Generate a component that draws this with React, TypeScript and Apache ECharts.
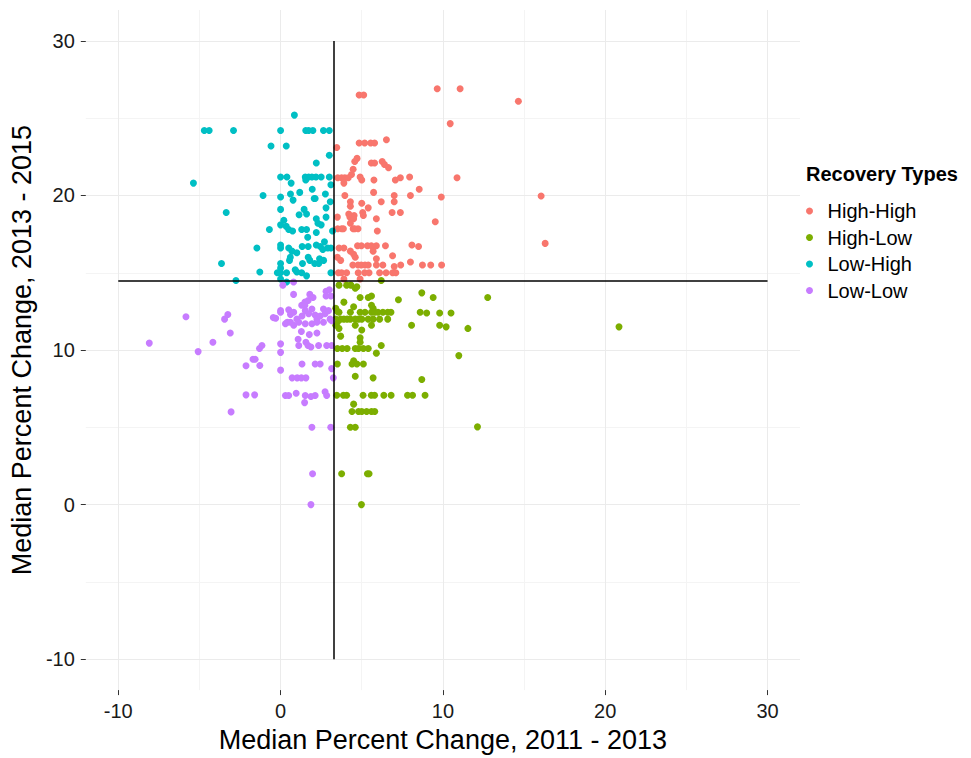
import React, { useEffect, useRef } from "react";
import * as echarts from "echarts";

// ---- data (x = % change 2011-2013, y = % change 2013-2015) ----
const seriesNames = ["High-High", "High-Low", "Low-High", "Low-Low"];
const seriesColors = ["#F8766D", "#7CAE00", "#00BFC4", "#C77CFF"];

const highHigh: number[][] = [
  [9.65, 26.9], [11.06, 26.9], [4.84, 26.5], [5.12, 26.5], [14.65, 26.1], [10.45, 24.65],
  [3.46, 23.1], [4.84, 23.4], [5.18, 23.4], [5.55, 23.4], [5.79, 23.4], [6.52, 23.6],
  [4.71, 22.4], [4.57, 22.2], [4.47, 21.7], [5.59, 22.1], [5.79, 22.1], [6.26, 22.2], [6.4, 22.0], [6.65, 21.8],
  [4.37, 21.36], [3.52, 21.15], [3.76, 21.15], [3.96, 21.15], [4.17, 21.15], [3.9, 20.8], [4.9, 21.2], [5.0, 21.0],
  [5.75, 21.0], [7.07, 21.0], [7.38, 21.15], [7.95, 21.2], [10.87, 21.15],
  [8.54, 20.4], [5.73, 20.2], [3.96, 20.0], [7.0, 20.0], [8.0, 20.0], [9.9, 19.9], [16.05, 19.97],
  [4.3, 19.6], [4.3, 19.3], [5.0, 19.5], [5.4, 19.2], [6.2, 19.6], [7.0, 19.6], [6.87, 18.9], [7.38, 18.9],
  [5.06, 18.9], [5.1, 18.7], [4.27, 18.6], [4.53, 18.7],
  [3.5, 18.6], [4.2, 18.8], [4.5, 18.5], [4.3, 18.2], [5.9, 18.5], [9.53, 18.3],
  [3.52, 17.85], [3.76, 17.85], [3.87, 17.85], [4.47, 17.85], [4.57, 17.85], [4.77, 17.85], [5.96, 17.7],
  [3.9, 16.6], [3.6, 16.6], [4.74, 16.75], [4.98, 16.75], [5.35, 16.75], [5.59, 16.75], [5.9, 16.75], [6.46, 16.75],
  [8.09, 16.8], [8.5, 16.7], [16.3, 16.9],
  [4.3, 16.4], [4.5, 16.2], [4.6, 16.0], [5.7, 16.4], [5.9, 15.9], [3.5, 16.0], [3.7, 15.8], [6.9, 16.1],
  [4.45, 15.5], [4.77, 15.5], [4.97, 15.5], [5.2, 15.5], [5.4, 15.5], [5.9, 15.5], [6.3, 15.5], [7.0, 15.4],
  [7.4, 15.5], [8.0, 15.7], [8.74, 15.5], [9.25, 15.5], [9.92, 15.5],
  [3.56, 15.0], [3.76, 15.0], [4.07, 15.0], [4.78, 15.0], [5.18, 15.0], [5.45, 15.0], [6.1, 15.0], [6.5, 15.0],
  [6.9, 15.0], [7.1, 15.0], [3.9, 14.6], [4.9, 14.6],
];

const highLow: number[][] = [
  [3.6, 14.2], [4.07, 14.2], [4.33, 14.2], [4.6, 14.0], [4.7, 14.1], [6.2, 14.5],
  [8.7, 13.7], [9.4, 13.4], [12.76, 13.4], [4.9, 13.4], [5.4, 13.4], [5.6, 13.5], [7.26, 13.25], [3.9, 13.1],
  [4.5, 12.8], [5.6, 12.9], [5.7, 12.7], [3.4, 12.7], [3.5, 12.5],
  [3.6, 12.45], [4.3, 12.45], [4.9, 12.45], [5.2, 12.45], [5.6, 12.45], [5.8, 12.45], [6.0, 12.45], [6.3, 12.45],
  [6.6, 12.45], [6.8, 12.45], [8.6, 12.45], [9.0, 12.4], [9.8, 12.4], [10.5, 12.4],
  [3.4, 12.0], [3.7, 12.0], [3.9, 12.0], [4.1, 12.0], [4.3, 12.0], [4.6, 12.0], [4.8, 12.0], [5.0, 12.0],
  [5.4, 12.0], [5.7, 12.0], [6.1, 12.0], [6.6, 12.0],
  [8.07, 11.6], [9.8, 11.6], [10.2, 11.5], [11.54, 11.4], [20.85, 11.5], [3.5, 11.8], [3.4, 11.6], [3.6, 11.4],
  [4.6, 11.6], [5.6, 11.6], [5.0, 11.3], [3.7, 10.9], [4.9, 10.8], [4.9, 10.5],
  [3.5, 10.1], [3.8, 10.1], [4.1, 10.1], [4.6, 10.1], [4.8, 10.1], [5.1, 10.1], [5.4, 10.1], [6.2, 10.3],
  [5.9, 9.8], [10.98, 9.64],
  [3.5, 9.1], [4.4, 9.1], [4.5, 9.3], [4.7, 9.1], [5.1, 9.1], [4.6, 8.3], [5.7, 8.2], [8.7, 8.1],
  [3.46, 7.07], [3.87, 7.07], [4.07, 7.07], [5.08, 7.07], [5.59, 7.07], [5.79, 7.07], [6.36, 7.07], [6.81, 7.07],
  [7.82, 7.07], [8.13, 7.07], [8.9, 7.07],
  [4.5, 6.5], [4.4, 6.03], [4.8, 6.03], [5.0, 6.03], [5.3, 6.03], [5.6, 6.03], [5.8, 6.03],
  [4.3, 5.0], [4.6, 5.0], [12.13, 5.03], [3.76, 2.0], [5.35, 2.0], [5.45, 2.0], [4.98, 0.0],
];

const lowHigh: number[][] = [
  [0.85, 25.2],
  [-4.7, 24.2], [-4.4, 24.2], [-2.9, 24.2], [0.0, 24.2], [1.55, 24.2], [1.73, 24.2], [1.99, 24.2], [2.64, 24.2], [3.0, 24.2],
  [-0.59, 23.2], [0.35, 23.2], [3.0, 22.6], [2.2, 22.1],
  [0.0, 21.2], [0.39, 21.2], [1.52, 21.2], [1.73, 21.2], [1.93, 21.2], [2.18, 21.2], [2.5, 21.2], [3.0, 21.2], [1.55, 21.0],
  [-5.37, 20.8], [0.65, 20.8], [3.1, 20.7], [1.95, 20.4], [-1.08, 20.0], [0.0, 19.9], [0.61, 20.1], [0.77, 19.7],
  [1.18, 20.2], [2.07, 19.8], [2.13, 19.8], [2.76, 20.1], [3.06, 19.6],
  [-3.35, 18.9], [0.0, 19.1], [1.14, 18.75], [1.45, 19.1], [1.6, 18.8], [2.8, 19.2], [2.8, 18.6], [2.2, 18.5],
  [2.3, 18.2], [2.5, 18.1],
  [-0.69, 17.8], [0.2, 18.4], [0.0, 18.1], [0.35, 18.0], [0.5, 17.8], [0.74, 17.7], [1.3, 17.8], [1.6, 17.8],
  [2.2, 17.6], [3.2, 17.7], [1.67, 17.3],
  [-1.46, 16.6], [0.0, 16.6], [0.0, 16.8], [0.5, 16.6], [0.7, 16.4], [1.0, 16.3], [1.33, 16.7], [1.7, 16.7],
  [2.2, 16.8], [2.45, 16.7], [2.7, 17.0], [2.6, 16.5], [2.9, 16.6], [3.1, 16.6],
  [0.6, 16.0], [0.55, 15.8], [1.7, 16.0], [1.8, 15.8], [2.4, 15.9], [2.65, 15.8],
  [-3.64, 15.6], [0.0, 15.6], [0.0, 15.3], [1.35, 15.6], [2.1, 15.6], [2.35, 15.6],
  [-1.28, 15.05], [-0.2, 15.0], [0.0, 15.0], [0.37, 15.0], [0.9, 15.2], [1.0, 15.05], [1.3, 15.0], [1.6, 14.8], [3.1, 15.0],
  [-2.75, 14.5], [0.0, 14.6], [0.37, 14.4],
];

const lowLow: number[][] = [
  [-5.83, 12.15], [-8.09, 10.45], [-5.08, 9.9], [-4.17, 10.5], [-3.25, 12.3], [-3.45, 12.0], [-3.1, 11.1],
  [-2.13, 8.98], [-1.28, 9.0], [-1.7, 9.4], [-1.3, 10.1], [-1.15, 10.3], [-2.13, 7.1], [-1.6, 7.1], [-3.05, 6.0],
  [0.0, 10.4], [0.0, 9.85], [0.0, 8.7],
  [0.14, 14.2], [0.8, 14.4], [0.8, 13.6], [1.5, 13.1], [1.7, 13.2], [1.8, 13.6], [2.0, 13.4], [2.8, 13.8],
  [3.0, 13.9], [2.8, 13.5], [3.1, 13.5], [1.3, 12.9], [1.5, 12.9],
  [-0.45, 12.1], [-0.3, 12.06], [0.0, 12.45], [0.0, 12.55], [0.5, 12.6], [0.61, 12.3], [0.81, 12.45], [1.0, 12.0],
  [1.32, 12.2], [1.52, 12.55], [1.73, 12.35], [1.93, 12.65], [2.13, 12.27], [2.24, 12.0], [2.44, 12.2],
  [2.64, 12.65], [2.74, 12.35], [2.95, 12.55], [3.05, 12.0], [3.15, 11.9],
  [0.3, 11.7], [0.41, 11.8], [0.61, 11.8], [0.81, 11.6], [1.12, 11.8], [1.52, 11.7], [1.93, 11.7], [2.24, 11.8], [2.64, 11.8],
  [1.28, 11.2], [1.77, 11.0], [2.24, 11.1],
  [1.08, 10.7], [1.56, 10.5], [1.12, 10.3], [1.69, 10.3], [1.87, 10.2], [2.34, 10.3], [2.84, 10.3], [3.15, 10.3],
  [-1.57, 9.4], [1.32, 9.1], [2.13, 9.1], [2.44, 9.1], [3.15, 8.8], [3.25, 8.2],
  [0.71, 8.2], [1.02, 8.2], [1.28, 8.2], [1.56, 8.2],
  [0.3, 7.06], [0.5, 7.06], [0.96, 7.2], [1.52, 7.06], [1.87, 7.0], [2.13, 7.06], [2.74, 7.3], [2.84, 7.06],
  [1.48, 6.6], [1.93, 5.0], [3.09, 5.0], [1.97, 2.0], [1.87, 0.0],
];

const seriesData = [highHigh, highLow, lowHigh, lowLow];

// axis & reference values
const axisMin = -12;
const axisMax = 32;
const majorTicks = [-10, 0, 10, 20, 30];
const minorTicks = [-5, 5, 15, 25];
const refX = 3.3; // vertical divider
const refY = 14.5; // horizontal divider
const refSpan = [-10, 30];

const xTitle = "Median Percent Change, 2011 - 2013";
const yTitle = "Median Percent Change, 2013 - 2015";
const legendTitle = "Recovery Types";

const FONT = "'Liberation Sans', Arial, Helvetica, sans-serif";

export default function App() {
  const ref = useRef<HTMLDivElement>(null);

  useEffect(() => {
    if (!ref.current) return;
    const chart = echarts.init(ref.current, null, { renderer: "svg" });

    const gridLineData: any[] = [];
    minorTicks.forEach((v) => {
      gridLineData.push({ xAxis: v, lineStyle: { color: "#f4f4f4", width: 1, type: "solid" } });
      gridLineData.push({ yAxis: v, lineStyle: { color: "#f4f4f4", width: 1, type: "solid" } });
    });
    majorTicks.forEach((v) => {
      gridLineData.push({ xAxis: v, lineStyle: { color: "#ebebeb", width: 1, type: "solid" } });
      gridLineData.push({ yAxis: v, lineStyle: { color: "#ebebeb", width: 1, type: "solid" } });
    });

    const axisCommon = {
      type: "value",
      min: axisMin,
      max: axisMax,
      axisLine: { show: false, onZero: false },
      splitLine: { show: false },
      axisTick: {
        show: true,
        length: 5,
        customValues: majorTicks,
        lineStyle: { color: "#333", width: 1 },
      },
      axisLabel: {
        customValues: majorTicks,
        color: "#1a1a1a",
        fontSize: 20,
        fontFamily: FONT,
      },
      nameLocation: "middle",
      nameTextStyle: { color: "#000", fontSize: 27, fontFamily: FONT },
    };

    chart.setOption({
      animation: false,
      backgroundColor: "#ffffff",
      textStyle: { fontFamily: FONT },
      title: {
        text: legendTitle,
        left: 806,
        top: 164,
        padding: 0,
        textStyle: { fontSize: 20, fontWeight: "bold", color: "#000", fontFamily: FONT },
      },
      legend: {
        orient: "vertical",
        left: 806,
        top: 201,
        padding: 0,
        itemGap: 6.5,
        itemWidth: 14,
        itemHeight: 7,
        icon: "circle",
        data: seriesNames,
        textStyle: { fontSize: 20, color: "#000", fontFamily: FONT, lineHeight: 20, padding: [0, 0, 0, 6] },
      },
      grid: { left: 78, right: 171, top: 10, bottom: 58, containLabel: false },
      xAxis: {
        ...axisCommon,
        name: xTitle,
        nameGap: 29,
        axisLabel: { ...axisCommon.axisLabel, margin: 11 },
      },
      yAxis: {
        ...axisCommon,
        name: yTitle,
        nameGap: 37,
        axisLabel: { ...axisCommon.axisLabel, margin: 11 },
      },
      series: [
        {
          name: "grid",
          type: "scatter",
          data: [],
          z: 0,
          silent: true,
          markLine: {
            silent: true,
            z: 0,
            symbol: "none",
            label: { show: false },
            animation: false,
            lineStyle: { type: "solid" },
            data: gridLineData,
          },
        },
        ...seriesNames.map((name, i) => ({
          name,
          type: "scatter",
          data: seriesData[i],
          symbolSize: 7,
          z: 2,
          itemStyle: { color: seriesColors[i], opacity: 1 },
        })),
        {
          name: "dividers",
          type: "scatter",
          data: [],
          z: 5,
          silent: true,
          markLine: {
            silent: true,
            z: 10,
            symbol: "none",
            label: { show: false },
            animation: false,
            lineStyle: { color: "#000", width: 1.5, type: "solid" },
            data: [
              [{ coord: [refX, refSpan[0]] }, { coord: [refX, refSpan[1]] }],
              [{ coord: [refSpan[0], refY] }, { coord: [refSpan[1], refY] }],
            ],
          },
        },
      ],
    });

    return () => chart.dispose();
  }, []);

  return (
    <div
      ref={ref}
      style={{ position: "fixed", left: 0, top: 0, width: 971, height: 758 }}
    />
  );
}
